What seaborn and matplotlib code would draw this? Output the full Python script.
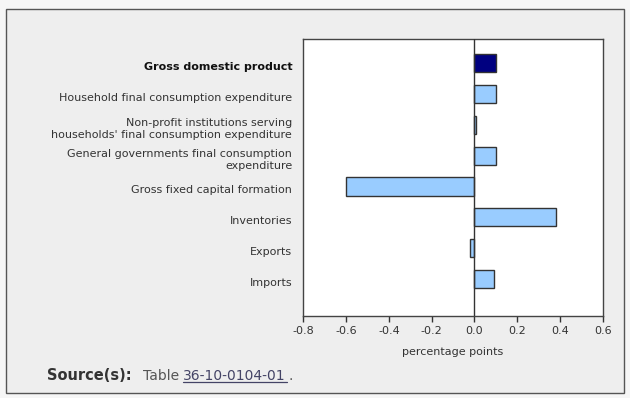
import matplotlib
matplotlib.use("Agg")
import matplotlib.pyplot as plt
import matplotlib.transforms as mtransforms
import seaborn as sns
import pandas as pd
from matplotlib.patches import Rectangle

categories = [
    "Gross domestic product",
    "Household final consumption expenditure",
    "Non-profit institutions serving\nhouseholds' final consumption expenditure",
    "General governments final consumption\nexpenditure",
    "Gross fixed capital formation",
    "Inventories",
    "Exports",
    "Imports",
]
values = [0.10, 0.10, 0.008, 0.10, -0.60, 0.38, -0.02, 0.09]
bar_colors = ["#000080", "#99ccff", "#99ccff", "#99ccff", "#99ccff", "#99ccff", "#99ccff", "#99ccff"]
xticks = [-0.8, -0.6, -0.4, -0.2, 0.0, 0.2, 0.4, 0.6]
xlabel = "percentage points"

sns.set_theme(style="white")
plt.rcParams['font.family'] = ['DejaVu Sans']

df = pd.DataFrame({"category": categories, "value": values})

fig = plt.figure(figsize=(6.3, 3.98), dpi=100)
fig.patch.set_facecolor("#f6f6f6")
# outer panel
fig.add_artist(Rectangle((6 / 630, 1 - 392.5 / 398), (624.3 - 6) / 630, (392.5 - 8.7) / 398,
                         transform=fig.transFigure, facecolor="#eeeeee",
                         edgecolor="#555555", linewidth=1.0, zorder=-5))

ax = fig.add_axes([303.3 / 630, 1 - 316 / 398, (602.7 - 303.3) / 630, (316 - 39.3) / 398])
ax.set_zorder(2)
ax.set_facecolor("white")

sns.barplot(data=df, x="value", y="category", hue="category", palette=bar_colors,
            legend=False, orient="h", width=0.59, saturation=1, edgecolor="#333333",
            linewidth=1.0, ax=ax, zorder=3)

ax.set_xlim(-0.8, 0.6)
ax.set_ylim(8.2, -0.78)
ax.set_xticks(xticks)
ax.set_xticklabels([f"{t:.1f}" for t in xticks], fontsize=8, color="#333333")
ax.tick_params(axis="x", direction="out", length=4, width=1, color="#333333", bottom=True, pad=3)
ax.tick_params(axis="y", length=0, pad=8)
ax.set_yticks(range(len(categories)))
ax.set_yticklabels(categories, fontsize=8, color="#333333")
ax.get_yticklabels()[0].set_fontweight("bold")
ax.get_yticklabels()[0].set_color("#111111")
offset = mtransforms.ScaledTranslation(0, -2.5 / 100, fig.dpi_scale_trans)
for lbl in ax.get_yticklabels():
    lbl.set_transform(lbl.get_transform() + offset)
ax.set_ylabel("")
ax.set_xlabel(xlabel, fontsize=8, color="#333333", labelpad=8)
ax.axvline(0, color="#333333", linewidth=1.0, zorder=4)
for s in ax.spines.values():
    s.set_color("#444444")
    s.set_linewidth(1.0)
    s.set_visible(True)

fig.text(47 / 630, 1 - 376 / 398, "Source(s):", fontsize=10.5, fontweight="bold",
         color="#333333", va="center", ha="left")
fig.text(143 / 630, 1 - 376 / 398, "Table ", fontsize=10, color="#555555", va="center", ha="left")
fig.text(183 / 630, 1 - 376 / 398, "36-10-0104-01", fontsize=10, color="#444466",
         va="center", ha="left")
fig.text(288 / 630, 1 - 376 / 398, ".", fontsize=10, color="#555555", va="center", ha="left")
fig.add_artist(plt.Line2D([183 / 630, 287 / 630], [1 - 382 / 398, 1 - 382 / 398],
                          transform=fig.transFigure, color="#444466", linewidth=0.9))

fig.savefig("out.png", dpi=100, facecolor=fig.get_facecolor())
